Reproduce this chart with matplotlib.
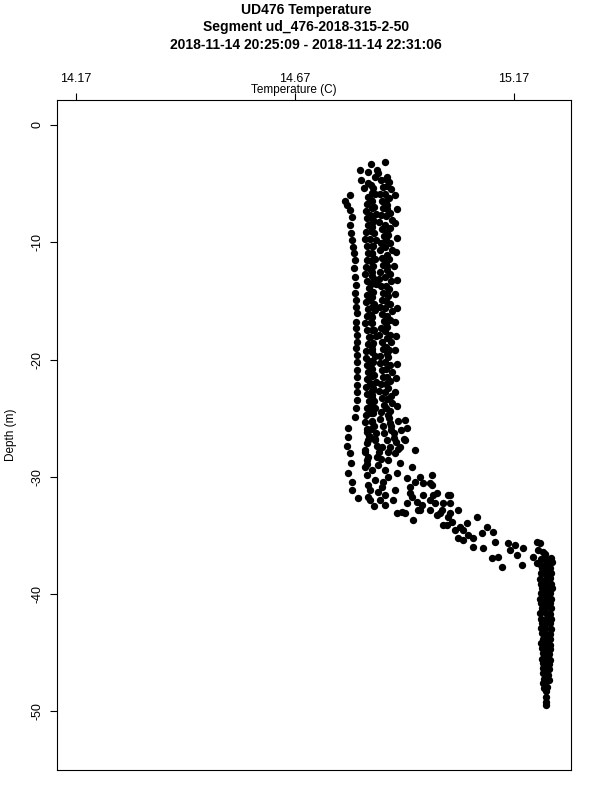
# ==========================
# UD476 Temperature profile
# ==========================

import matplotlib
matplotlib.use("Agg")
import matplotlib.pyplot as plt

plt.rcParams["font.family"] = ["Liberation Sans", "DejaVu Sans"]

# ==========================
# Data (temperature C, depth m)
# ==========================

t_top = [14.876, 14.843, 14.857, 14.818, 14.837, 14.853, 14.821, 14.880, 14.837, 14.828, 14.784]
d_top = [-3.16, -3.33, -3.84, -3.84, -4.01, -4.44, -4.69, -4.44, -4.95, -5.38, -6.45]

t_left = [14.796, 14.789, 14.796, 14.800, 14.796, 14.798, 14.800, 14.802, 14.805, 14.807,
          14.805, 14.807, 14.809, 14.807, 14.810, 14.809, 14.811, 14.809, 14.810, 14.812,
          14.811, 14.810, 14.812, 14.811, 14.812, 14.812, 14.811, 14.812, 14.811, 14.810,
          14.808, 14.791, 14.791, 14.789, 14.796, 14.798, 14.791, 14.800, 14.800]
d_left = [-5.97, -6.83, -7.25, -7.85, -8.53, -9.22, -9.81, -10.41, -10.92, -11.52,
          -12.20, -12.97, -13.65, -14.33, -14.93, -15.53, -16.04, -16.81, -17.32, -17.92,
          -18.52, -19.03, -19.62, -20.22, -20.90, -21.50, -22.18, -22.78, -23.46, -24.15,
          -24.91, -25.85, -26.62, -27.39, -27.99, -28.84, -29.69, -30.46, -31.14]

t_c2 = [14.837, 14.835, 14.833, 14.834, 14.836, 14.832, 14.831, 14.834, 14.837, 14.835,
        14.833, 14.831, 14.835, 14.838, 14.835, 14.833, 14.836, 14.834, 14.831, 14.835,
        14.838, 14.836, 14.833, 14.832, 14.835, 14.837, 14.834, 14.832, 14.835, 14.838,
        14.835, 14.833, 14.831, 14.835, 14.839, 14.834, 14.831, 14.837, 14.835]
d_c2 = [-6.1, -6.7, -7.3, -7.9, -8.5, -9.1, -9.7, -10.3, -10.9, -11.5,
        -12.1, -12.7, -13.3, -13.9, -14.5, -15.1, -15.7, -16.3, -16.9, -17.5,
        -18.1, -18.7, -19.3, -19.9, -20.5, -21.1, -21.7, -22.3, -22.9, -23.5,
        -24.1, -24.7, -25.3, -25.9, -26.5, -27.1, -27.7, -28.3, -28.9]

t_c7 = [14.844, 14.846, 14.843, 14.845, 14.842, 14.846, 14.844, 14.841, 14.845, 14.847,
        14.843, 14.842, 14.846, 14.844, 14.845, 14.842, 14.847, 14.844, 14.843, 14.846,
        14.842, 14.845, 14.847, 14.843, 14.844, 14.846, 14.842, 14.845, 14.847, 14.844,
        14.843, 14.846, 14.844, 14.842]
d_c7 = [-5.1, -5.8, -6.4, -7.1, -7.7, -8.4, -9.0, -9.7, -10.3, -11.0,
        -11.6, -12.3, -12.9, -13.6, -14.2, -14.9, -15.5, -16.2, -16.8, -17.5,
        -18.1, -18.8, -19.4, -20.1, -20.7, -21.4, -22.0, -22.7, -23.3, -24.0,
        -24.6, -25.3, -25.9, -26.6]

t_c3 = [14.848, 14.852, 14.846, 14.850, 14.854, 14.849, 14.845, 14.851, 14.855, 14.848,
        14.846, 14.852, 14.849, 14.845, 14.850, 14.854, 14.848, 14.846, 14.851, 14.853,
        14.847, 14.845, 14.850, 14.855, 14.849, 14.846, 14.852, 14.848, 14.845, 14.850,
        14.854, 14.849, 14.846, 14.851, 14.853, 14.848, 14.845, 14.850, 14.856, 14.852,
        14.858, 14.862, 14.866]
d_c3 = [-5.4, -5.9, -6.5, -7.0, -7.6, -8.1, -8.7, -9.2, -9.8, -10.3,
        -10.9, -11.4, -12.0, -12.5, -13.1, -13.6, -14.2, -14.7, -15.3, -15.8,
        -16.4, -16.9, -17.5, -18.0, -18.6, -19.1, -19.7, -20.2, -20.8, -21.3,
        -21.9, -22.4, -23.0, -23.5, -24.1, -24.6, -25.2, -25.7, -26.3, -26.8,
        -27.4, -27.9, -28.5]

t_c4 = [14.860, 14.866, 14.870, 14.864, 14.868, 14.872, 14.866, 14.862, 14.869, 14.873,
        14.867, 14.863, 14.868, 14.871, 14.865, 14.862, 14.867, 14.872, 14.868, 14.864,
        14.869, 14.873, 14.866, 14.862, 14.868, 14.871, 14.865, 14.863, 14.869, 14.872,
        14.866, 14.862, 14.868, 14.873, 14.867, 14.864, 14.870, 14.874, 14.880, 14.886]
d_c4 = [-4.1, -4.7, -5.3, -5.9, -6.5, -7.1, -7.7, -8.3, -8.9, -9.5,
        -10.1, -10.7, -11.3, -11.9, -12.5, -13.1, -13.7, -14.3, -14.9, -15.5,
        -16.1, -16.7, -17.3, -17.9, -18.5, -19.1, -19.7, -20.3, -20.9, -21.5,
        -22.1, -22.7, -23.3, -23.9, -24.5, -25.1, -25.7, -26.3, -26.9, -27.5]

t_c8 = [14.877, 14.879, 14.876, 14.878, 14.880, 14.877, 14.875, 14.879, 14.878, 14.876,
        14.880, 14.877, 14.879, 14.876, 14.878, 14.880, 14.877, 14.875, 14.879, 14.878,
        14.876, 14.880, 14.877, 14.879, 14.876, 14.878, 14.880, 14.877, 14.875, 14.879,
        14.878, 14.882, 14.886, 14.890, 14.896]
d_c8 = [-4.6, -5.2, -5.9, -6.5, -7.2, -7.8, -8.5, -9.1, -9.8, -10.4,
        -11.1, -11.7, -12.4, -13.0, -13.7, -14.3, -15.0, -15.6, -16.3, -16.9,
        -17.6, -18.2, -18.9, -19.5, -20.2, -20.8, -21.5, -22.1, -22.8, -23.4,
        -24.1, -24.7, -25.4, -26.0, -26.7]

t_c5 = [14.885, 14.890, 14.884, 14.881, 14.887, 14.891, 14.886, 14.882, 14.888, 14.892,
        14.885, 14.881, 14.887, 14.890, 14.884, 14.882, 14.888, 14.891, 14.886, 14.881,
        14.887, 14.890, 14.885, 14.882, 14.888, 14.892, 14.886, 14.883, 14.889, 14.891,
        14.887, 14.884, 14.890, 14.895, 14.900, 14.906]
d_c5 = [-4.9, -5.5, -6.2, -6.8, -7.5, -8.1, -8.8, -9.4, -10.1, -10.7,
        -11.4, -12.0, -12.7, -13.3, -14.0, -14.6, -15.3, -15.9, -16.6, -17.2,
        -17.9, -18.5, -19.2, -19.8, -20.5, -21.1, -21.8, -22.4, -23.1, -23.7,
        -24.4, -25.0, -25.7, -26.3, -27.0, -27.6]

t_c6 = [14.898, 14.902, 14.899, 14.903, 14.900, 14.897, 14.902, 14.899, 14.903, 14.898,
        14.901, 14.899, 14.903, 14.900, 14.898, 14.902, 14.906, 14.913, 14.920]
d_c6 = [-6.0, -7.2, -8.4, -9.6, -10.8, -12.0, -13.2, -14.4, -15.6, -16.8,
        -18.0, -19.2, -20.4, -21.6, -22.8, -24.0, -25.2, -26.0, -26.8]

t_mix = [14.834, 14.837, 14.830, 14.834, 14.830, 14.834, 14.837, 14.841, 14.837, 14.850,
         14.875, 14.859, 14.871, 14.875, 14.882, 14.898, 14.910, 14.921, 14.926, 14.921,
         14.944, 14.903, 14.910, 14.937, 14.926, 14.944, 14.962, 14.983, 14.898, 14.937,
         14.949, 14.960, 14.990, 15.006, 15.024, 14.921, 14.903, 14.951, 14.853, 14.869,
         14.882, 14.857, 14.859, 14.846, 14.882, 14.853, 14.869, 14.875, 14.894, 14.841,
         14.864, 14.814]
d_mix = [-26.19, -26.88, -27.90, -28.58, -29.18, -29.86, -30.72, -31.14, -31.74, -32.51,
         -32.42, -31.31, -30.46, -29.44, -28.58, -27.99, -27.47, -26.88, -25.85, -25.17,
         -27.73, -29.69, -28.84, -29.18, -30.12, -30.46, -30.55, -30.72, -31.14, -31.74,
         -32.17, -32.42, -32.25, -32.85, -33.11, -33.11, -33.11, -32.85, -26.88, -27.47,
         -27.90, -28.33, -29.01, -29.44, -30.03, -30.29, -30.89, -31.57, -32.00, -32.00,
         -32.00, -31.80]

t_slope = [14.983, 14.994, 15.024, 15.008, 15.024, 15.042, 15.001, 15.019, 15.028, 15.008,
           15.047, 15.054, 15.086, 15.063, 15.065, 15.042, 15.054, 15.076, 15.097, 15.108,
           15.122, 15.076, 15.099, 15.127, 15.156, 15.172, 15.161, 15.177, 15.191, 15.120,
           15.133, 15.143, 15.188, 15.223, 15.229, 15.225, 15.236, 15.213, 15.241, 15.252,
           15.223, 15.245, 14.933, 14.955, 14.978, 14.933, 14.962, 14.985, 14.978, 15.019,
           14.978, 14.994, 15.017, 15.035, 14.939, 14.955, 14.926, 14.914]
d_slope = [-29.86, -31.40, -31.57, -32.25, -32.25, -32.85, -33.11, -33.45, -33.87, -34.13,
           -34.30, -34.56, -33.45, -33.96, -34.98, -35.24, -35.41, -35.24, -34.81, -34.30,
           -34.73, -36.01, -36.09, -35.58, -35.67, -35.84, -36.26, -36.69, -36.09, -36.95,
           -36.86, -37.71, -37.54, -35.58, -35.67, -36.26, -36.43, -36.86, -36.95, -37.12,
           -37.37, -37.54, -30.89, -30.03, -30.55, -31.40, -31.57, -31.57, -32.00, -31.57,
           -32.85, -33.28, -34.13, -34.56, -33.70, -32.85, -32.25, -33.02]

t_b1 = [15.232, 15.230, 15.233, 15.231, 15.229, 15.232, 15.234, 15.231, 15.229, 15.232,
        15.233, 15.230, 15.232, 15.234, 15.231, 15.233, 15.235, 15.232, 15.234, 15.236,
        15.233, 15.235, 15.237, 15.236, 15.238, 15.237, 15.239]
d_b1 = [-37.0, -37.4, -37.8, -38.2, -38.7, -39.1, -39.5, -39.9, -40.4, -40.8,
        -41.2, -41.6, -42.1, -42.5, -42.9, -43.3, -43.8, -44.2, -44.6, -45.0,
        -45.5, -45.9, -46.3, -46.7, -47.2, -47.6, -48.0]

t_b2 = [15.240, 15.244, 15.242, 15.245, 15.243, 15.241, 15.244, 15.246, 15.243, 15.241,
        15.244, 15.242, 15.245, 15.243, 15.241, 15.244, 15.246, 15.243, 15.242, 15.244,
        15.243, 15.245, 15.242, 15.244, 15.243, 15.245, 15.243, 15.244, 15.243, 15.244]
d_b2 = [-36.6, -37.1, -37.5, -38.0, -38.4, -38.9, -39.3, -39.8, -40.2, -40.7,
        -41.1, -41.6, -42.0, -42.5, -42.9, -43.4, -43.8, -44.3, -44.7, -45.2,
        -45.6, -46.1, -46.5, -47.0, -47.4, -47.9, -48.3, -48.8, -49.2, -49.5]

t_b3 = [15.254, 15.256, 15.253, 15.255, 15.252, 15.254, 15.256, 15.253, 15.255, 15.252,
        15.254, 15.253, 15.255, 15.252, 15.254, 15.252, 15.253, 15.251, 15.252, 15.250,
        15.251, 15.249, 15.250, 15.248, 15.249]
d_b3 = [-36.9, -37.3, -37.8, -38.2, -38.6, -39.1, -39.5, -39.9, -40.4, -40.8,
        -41.2, -41.7, -42.1, -42.5, -43.0, -43.4, -43.8, -44.3, -44.7, -45.1,
        -45.6, -46.0, -46.4, -46.9, -47.3]

x_ticks = [14.17, 14.67, 15.17]
y_ticks = [0, -10, -20, -30, -40, -50]

groups = [
    (t_top, d_top), (t_left, d_left), (t_c2, d_c2), (t_c7, d_c7), (t_c3, d_c3),
    (t_c4, d_c4), (t_c8, d_c8), (t_c5, d_c5), (t_c6, d_c6), (t_mix, d_mix),
    (t_slope, d_slope), (t_b1, d_b1), (t_b2, d_b2), (t_b3, d_b3),
]

# ==========================
# Plot
# ==========================

fig = plt.figure(figsize=(6, 8), dpi=100)
ax = fig.add_axes([57 / 600, 30 / 800, 514 / 600, 670 / 800])

for t, d in groups:
    ax.scatter(t, d, s=28, color="black", linewidths=0)

ax.set_xlim(14.127, 15.300)
ax.set_ylim(-55.0, 2.13)

ax.xaxis.tick_top()
ax.set_xticks(x_ticks)
ax.set_xticklabels([f"{v:.2f}" for v in x_ticks])
ax.set_yticks(y_ticks)
ax.set_yticklabels([str(v) for v in y_ticks], rotation=90, va="center")

ax.tick_params(axis="both", direction="out", length=5, width=0.8, labelsize=9)
ax.tick_params(axis="x", pad=6)
ax.tick_params(axis="y", pad=5)

for spine in ax.spines.values():
    spine.set_linewidth(0.8)

ax.set_ylabel("Depth (m)", fontsize=8.5, labelpad=10)

fig.text(294 / 600, 1 - 90 / 800, "Temperature (C)", ha="center", va="center", fontsize=8.5)

fig.text(0.51, 1 - 10 / 800, "UD476 Temperature", ha="center", va="center",
         fontsize=10, fontweight="bold")
fig.text(0.51, 1 - 27 / 800, "Segment ud_476-2018-315-2-50", ha="center", va="center",
         fontsize=10, fontweight="bold")
fig.text(0.51, 1 - 45 / 800, "2018-11-14 20:25:09 - 2018-11-14 22:31:06", ha="center",
         va="center", fontsize=10, fontweight="bold")

fig.savefig("out.png", dpi=100)
